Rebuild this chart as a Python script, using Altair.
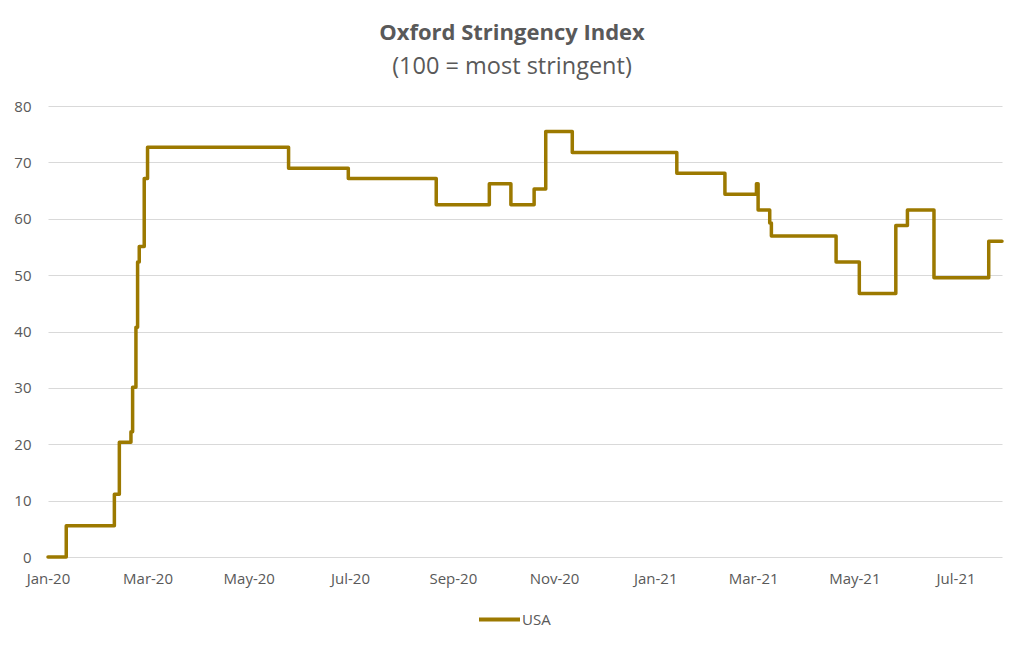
import altair as alt
import pandas as pd

# ---- data (value changes of the daily series) ----
dates = ["2020-01-01", "2020-01-12", "2020-02-10", "2020-02-13", "2020-02-20",
         "2020-02-21", "2020-02-23", "2020-02-24", "2020-02-25", "2020-02-28",
         "2020-03-01", "2020-05-25", "2020-06-30", "2020-08-22", "2020-09-23",
         "2020-10-06", "2020-10-20", "2020-10-27", "2020-11-12", "2021-01-14",
         "2021-02-12", "2021-03-03", "2021-03-04", "2021-03-11", "2021-03-12",
         "2021-04-20", "2021-05-04", "2021-05-26", "2021-06-02", "2021-06-18",
         "2021-07-21", "2021-07-29"]
values = [0, 5.56, 11.11, 20.37, 22.22,
          30.09, 40.74, 52.31, 55.09, 67.13,
          72.69, 68.98, 67.13, 62.5, 66.2,
          62.5, 65.28, 75.46, 71.76, 68.06,
          64.35, 66.2, 61.57, 59.26, 56.94,
          52.31, 46.76, 58.8, 61.57, 49.54,
          56.02, 56.02]
series_name = "USA"
tick_dates = ["2020-01-01", "2020-03-01", "2020-05-01", "2020-07-01", "2020-09-01",
              "2020-11-01", "2021-01-01", "2021-03-01", "2021-05-01", "2021-07-01"]
y_ticks = [0, 10, 20, 30, 40, 50, 60, 70, 80]
x_start, x_end = "2020-01-01", "2021-07-29"

COLOR = "#9C7900"
TEXT = "#595959"
GRID = "#d9d9d9"
FONT = "Open Sans"


def ms(s):
    return int(pd.Timestamp(s, tz="UTC").timestamp() * 1000)


df = pd.DataFrame({"date": dates, "value": values, "series": series_name})

chart = alt.Chart(df).mark_line(
    interpolate="step-after", strokeWidth=3.5, strokeJoin="round", strokeCap="round"
).encode(
    x=alt.X("date:T",
            scale=alt.Scale(type="utc", domain=[ms(x_start), ms(x_end)]),
            axis=alt.Axis(values=[ms(d) for d in tick_dates],
                          labelExpr="utcFormat(datum.value, '%b-%y')",
                          labelFlush=False, labelAlign="center",
                          title=None, grid=False, domain=False,
                          ticks=False, tickSize=0, labelPadding=14,
                          labelFont=FONT, labelFontSize=15, labelColor=TEXT)),
    y=alt.Y("value:Q",
            scale=alt.Scale(domain=[0, 80], nice=False),
            axis=alt.Axis(values=y_ticks, title=None, grid=True, gridColor=GRID,
                          gridWidth=1, domain=False, ticks=False, tickSize=0,
                          labelPadding=17, labelFont=FONT, labelFontSize=15,
                          labelColor=TEXT)),
    color=alt.Color("series:N",
                    scale=alt.Scale(domain=[series_name], range=[COLOR]),
                    legend=alt.Legend(orient="none", legendX=429, legendY=491,
                                      title=None, symbolType="stroke",
                                      symbolSize=1681, symbolStrokeWidth=4,
                                      labelFont=FONT, labelFontSize=15,
                                      labelColor=TEXT, labelOffset=0, padding=0)),
).properties(
    width=954,
    height=451,
    background="white",
    padding={"left": 40, "top": 98, "right": 14, "bottom": 80},
    autosize=alt.AutoSizeParams(type="none"),
    title=alt.Title("Oxford Stringency Index", subtitle="(100 = most stringent)",
                    font=FONT, fontSize=22, fontWeight="bold", color=TEXT,
                    subtitleFont=FONT, subtitleFontSize=23.5, subtitleColor=TEXT,
                    anchor="middle", dx=-13, offset=20, subtitlePadding=10),
).configure_view(strokeWidth=0, stroke="transparent")

chart.save("out.html", embed_options={"renderer": "svg", "actions": False})
